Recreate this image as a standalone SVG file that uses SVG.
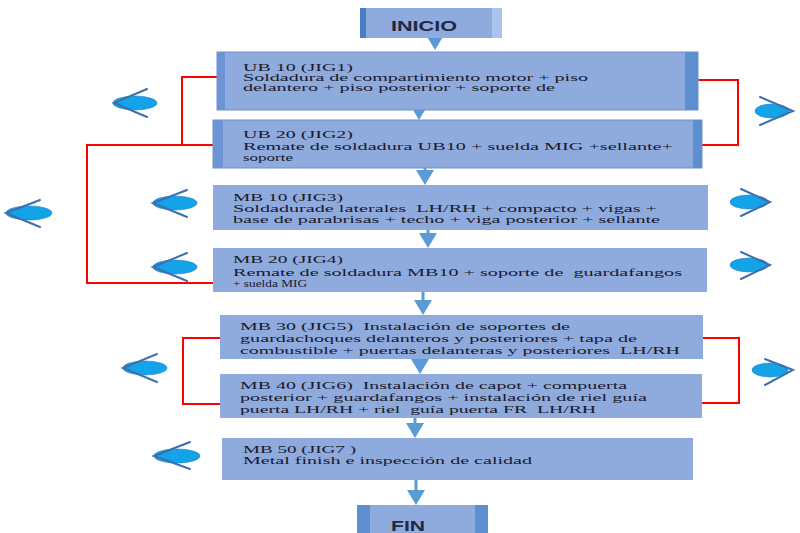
<svg xmlns="http://www.w3.org/2000/svg" width="800" height="533" viewBox="0 0 800 533">
<defs>
<style>
.box{fill:#8FAADC;}
.strip{fill:#5E8FD0;}
.stripL{fill:#6C93D3;}
.t{font-family:"Liberation Serif","Times New Roman",serif;font-size:10.5px;fill:#1a1a2e;white-space:pre;}
.h{font-family:"Liberation Sans",Arial,sans-serif;font-size:15px;font-weight:bold;fill:#1f2a44;}
.red{fill:none;stroke:#FF0000;stroke-width:2;}
.arr{stroke:#5B9BD5;stroke-width:3;fill:none;}
.ell{fill:#12A3E8;stroke:#2E7EC0;stroke-width:0.6;}
.chev{fill:none;stroke:#3F6EAE;stroke-width:2;stroke-linecap:round;}
</style>
<marker id="ah" markerWidth="6" markerHeight="6" refX="4" refY="3" orient="auto" markerUnits="strokeWidth">
<path d="M0,0 L5,3 L0,6 Z" fill="#5B9BD5"/>
</marker>
</defs>
<rect width="800" height="533" fill="#FFFFFF"/>

<g id="connectors">
<line class="arr" x1="435" y1="38" x2="435" y2="47" marker-end="url(#ah)"/>
<line class="arr" x1="419" y1="110" x2="419" y2="117" marker-end="url(#ah)"/>
<line class="arr" x1="425" y1="168" x2="425" y2="182" marker-end="url(#ah)"/>
<line class="arr" x1="428" y1="230" x2="428" y2="245" marker-end="url(#ah)"/>
<line class="arr" x1="423" y1="292" x2="423" y2="312" marker-end="url(#ah)"/>
<line class="arr" x1="420" y1="359" x2="420" y2="371" marker-end="url(#ah)"/>
<line class="arr" x1="415" y1="418" x2="415" y2="435" marker-end="url(#ah)"/>
<line class="arr" x1="416" y1="480" x2="416" y2="502" marker-end="url(#ah)"/>
<polyline class="red" points="217,77 182,77 182,145"/>
<polyline class="red" points="213,145 87,145 87,283 213,283"/>
<polyline class="red" points="698,80 738,80 738,145 702,145"/>
<polyline class="red" points="220,338 183,338 183,404 220,404"/>
<polyline class="red" points="703,338 739,338 739,403 702,403"/>
</g>

<g id="inicio">
<rect x="360" y="8" width="142" height="30" fill="#8FAADC"/>
<rect x="360" y="8" width="6" height="30" fill="#4A7EC4"/>
<rect x="492" y="8" width="10" height="30" fill="#A9C4EA"/>
<text class="h" x="424" y="31" text-anchor="middle" textLength="66" lengthAdjust="spacingAndGlyphs">INICIO</text>
</g>

<g id="ub10">
<rect x="217" y="52" width="481" height="58" class="box" stroke="#7391C9" stroke-width="1"/>
<rect x="217" y="52" width="8" height="58" class="stripL"/>
<rect x="685" y="52" width="13" height="58" class="strip"/>
<text class="t" x="243" y="71" textLength="110" lengthAdjust="spacingAndGlyphs">UB 10 (JIG1)</text>
<text class="t" x="243" y="81" textLength="345" lengthAdjust="spacingAndGlyphs">Soldadura de compartimiento motor + piso</text>
<text class="t" x="243" y="91" textLength="312" lengthAdjust="spacingAndGlyphs">delantero + piso posterior + soporte de</text>
</g>

<g id="ub20">
<rect x="213" y="120" width="489" height="48" class="box" stroke="#7391C9" stroke-width="1"/>
<rect x="213" y="120" width="10" height="48" class="stripL"/>
<rect x="693" y="120" width="9" height="48" class="strip"/>
<text class="t" x="243" y="138" textLength="110" lengthAdjust="spacingAndGlyphs">UB 20 (JIG2)</text>
<text class="t" x="243" y="150" textLength="430" lengthAdjust="spacingAndGlyphs">Remate de soldadura UB10 + suelda MIG +sellante+</text>
<text class="t" x="243" y="161" textLength="50" lengthAdjust="spacingAndGlyphs">soporte</text>
</g>

<g id="mb10">
<rect x="213" y="185" width="495" height="45" class="box"/>
<text class="t" x="233" y="201" textLength="110" lengthAdjust="spacingAndGlyphs">MB 10 (JIG3)</text>
<text class="t" x="233" y="212" textLength="424" lengthAdjust="spacingAndGlyphs">Soldadurade laterales  LH/RH + compacto + vigas +</text>
<text class="t" x="233" y="223" textLength="427" lengthAdjust="spacingAndGlyphs">base de parabrisas + techo + viga posterior + sellante</text>
</g>

<g id="mb20">
<rect x="213" y="248" width="494" height="44" class="box"/>
<text class="t" x="233" y="263" textLength="110" lengthAdjust="spacingAndGlyphs">MB 20 (JIG4)</text>
<text class="t" x="233" y="276" textLength="449" lengthAdjust="spacingAndGlyphs">Remate de soldadura MB10 + soporte de  guardafangos</text>
<text class="t" x="233" y="287" textLength="74" lengthAdjust="spacingAndGlyphs">+ suelda MIG</text>
</g>

<g id="mb30">
<rect x="220" y="315" width="483" height="44" class="box"/>
<text class="t" x="240" y="330" textLength="330" lengthAdjust="spacingAndGlyphs">MB 30 (JIG5)  Instalación de soportes de</text>
<text class="t" x="240" y="342" textLength="397" lengthAdjust="spacingAndGlyphs">guardachoques delanteros y posteriores + tapa de</text>
<text class="t" x="240" y="354" textLength="440" lengthAdjust="spacingAndGlyphs">combustible + puertas delanteras y posteriores  LH/RH</text>
</g>

<g id="mb40">
<rect x="220" y="374" width="482" height="44" class="box"/>
<text class="t" x="240" y="389" textLength="387" lengthAdjust="spacingAndGlyphs">MB 40 (JIG6)  Instalación de capot + compuerta</text>
<text class="t" x="240" y="401" textLength="407" lengthAdjust="spacingAndGlyphs">posterior + guardafangos + instalación de riel guía</text>
<text class="t" x="240" y="413" textLength="356" lengthAdjust="spacingAndGlyphs">puerta LH/RH + riel  guía puerta FR  LH/RH</text>
</g>

<g id="mb50">
<rect x="222" y="438" width="471" height="42" class="box"/>
<text class="t" x="243" y="453" textLength="113" lengthAdjust="spacingAndGlyphs">MB 50 (JIG7 )</text>
<text class="t" x="243" y="464" textLength="289" lengthAdjust="spacingAndGlyphs">Metal finish e inspección de calidad</text>
</g>

<g id="fin">
<rect x="357" y="505" width="131" height="30" fill="#8FAADC"/>
<rect x="357" y="505" width="13" height="30" class="strip"/>
<rect x="475" y="505" width="13" height="30" class="strip"/>
<text class="h" x="408" y="531" text-anchor="middle" textLength="34" lengthAdjust="spacingAndGlyphs">FIN</text>
</g>

<g id="eye-l1"><ellipse class="ell" cx="135" cy="103" rx="22" ry="7"/><polyline class="chev" points="147,89 114,103 147,117"/></g>
<g id="eye-l2"><ellipse class="ell" cx="29" cy="213" rx="23" ry="7"/><polyline class="chev" points="40,200 6,213 40,227"/></g>
<g id="eye-l3"><ellipse class="ell" cx="175" cy="203" rx="22" ry="7"/><polyline class="chev" points="187,190 153,203 187,217"/></g>
<g id="eye-l4"><ellipse class="ell" cx="175" cy="267" rx="22" ry="7"/><polyline class="chev" points="187,253 153,267 187,281"/></g>
<g id="eye-l5"><ellipse class="ell" cx="145" cy="368" rx="22" ry="7"/><polyline class="chev" points="157,354 123,368 157,382"/></g>
<g id="eye-l6"><ellipse class="ell" cx="177" cy="456" rx="23" ry="7"/><polyline class="chev" points="190,442 154,456 190,469"/></g>
<g id="eye-r1"><ellipse class="ell" cx="772" cy="111" rx="17" ry="7"/><polyline class="chev" points="760,97 793,111 760,125"/></g>
<g id="eye-r2"><ellipse class="ell" cx="749" cy="202" rx="19" ry="7"/><polyline class="chev" points="741,189 770,202 741,216"/></g>
<g id="eye-r3"><ellipse class="ell" cx="749" cy="265" rx="19" ry="7"/><polyline class="chev" points="741,252 770,265 741,279"/></g>
<g id="eye-r4"><ellipse class="ell" cx="770" cy="370" rx="18" ry="7"/><polyline class="chev" points="765,359 793,370 765,385"/></g>
</svg>
